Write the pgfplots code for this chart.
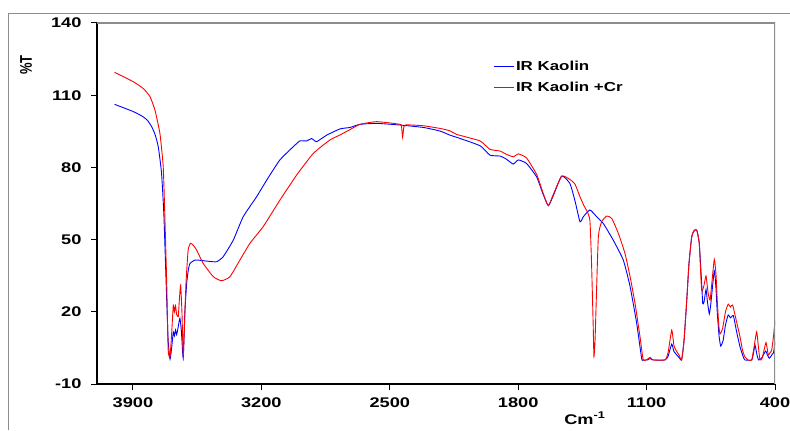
\documentclass[border=0pt]{standalone}
\usepackage{graphicx}
\usepackage{pgfplots}
\pgfplotsset{compat=1.18}
\usepackage{fontspec}
\setmainfont{Liberation Sans}
\newcommand{\wide}[1]{\scalebox{1.3}[1]{#1}}
\definecolor{frame}{RGB}{140,140,140}
\begin{document}
\begin{tikzpicture}[x=1bp,y=1bp]
\path[use as bounding box] (0,0) rectangle (790,430);
\draw[frame, line width=1bp] (8,0) -- (8,416) -- (790,416);
\begin{axis}[at={(97bp,46bp)}, anchor=south west,
  width=678bp, height=361bp, scale only axis,
  x dir=reverse, xmin=400, xmax=4096, ymin=-10, ymax=140,
  axis x line*=bottom, axis y line*=left,
  axis line style={line width=1.5bp, black, -},
  xtick={400,1100,1800,2500,3200,3900},
  xticklabels={\wide{400},\wide{1100},\wide{1800},\wide{2500},\wide{3200},\wide{3900}},
  ytick={-10,20,50,80,110,140},
  yticklabels={\wide{-10},\wide{20},\wide{50},\wide{80},\wide{110},\wide{140}},
  tick align=outside, major tick length=6bp,
  tick style={line width=1bp, black},
  tick label style={font=\fontsize{14bp}{16bp}\selectfont\bfseries},
  yticklabel style={xshift=-6bp},
  xticklabel style={yshift=-4bp},
  legend style={at={(rel axis cs:0.584,0.9)}, anchor=north west, draw=none, fill=none,
    font=\fontsize{13bp}{15bp}\selectfont\bfseries, inner sep=0pt, row sep=6bp,
    cells={anchor=west}},
  legend image code/.code={\draw[#1] (0bp,0bp) -- (20bp,0bp);},
  clip=true,
]
\addplot[blue, line width=0.9bp, smooth, tension=0.3] coordinates {
(4000,106.2) (3898,103.2) (3862,101.8) (3844,101) (3820,99.5) (3798,96.9) (3780,93.8) (3762,88.6) (3744,77.5) (3731,59.5) (3716,24.9) (3708,8) (3698,0.3) (3689,5) (3680,11.7) (3674,10) (3668,12.5) (3662,10.5) (3655,13) (3644,17.3) (3636,12) (3626,0.7) (3617,20) (3607,31.8) (3598,37.5) (3589,40.1) (3562,41.5) (3535,41.4) (3490,41) (3444,40.8) (3408,42.9) (3353,49.8) (3299,59.5) (3226,67.8) (3171,74.7) (3099,83.1) (3026,88.6) (2990,91) (2953,91) (2926,92) (2899,90.7) (2844,93.4) (2771,96) (2717,96.6) (2662,97.9) (2571,98.3) (2444,97.6) (2317,96.6) (2226,95.1) (2172,93.4) (2135,92.5) (2008,89) (1954,85.1) (1899,84.7) (1866,83.5) (1827,81.4) (1799,83.1) (1754,81.6) (1699,76) (1665,69) (1636,64.1) (1610,68) (1563,76.4) (1518,73.3) (1490,66) (1463,57.4) (1445,59.5) (1409,62.3) (1372,59.5) (1336,56.7) (1282,49.8) (1227,41.5) (1190,30.5) (1154,15.2) (1127,0.6) (1120,0) (1095,0) (1081,0.6) (1065,0) (1000,0) (983,1.5) (963,6.6) (951,3.5) (940,2.5) (923,1) (909,0) (896,8) (881,24.9) (869,40) (854,51.2) (842,53.5) (827,54) (813,48.5) (800,32) (794,23.5) (787,24) (776,29.3) (768,24) (758,19.1) (749,24) (731,37.1) (722,30) (715,20) (705,10) (696,5.8) (683,8) (670,14.5) (655,18.7) (643,17.5) (627,18.4) (610,12) (591,5.5) (574,1.5) (564,0) (527,0) (517,3) (509,6.2) (498,2) (490,0) (482,0.2) (471,1) (451,3.7) (441,2) (431,0.7) (418,2) (408,3) (400,7.6)
};
\addlegendentry{\wide{IR Kaolin}}
\addplot[red, line width=0.9bp, smooth, tension=0.3] coordinates {
(4000,119.5) (3898,115.6) (3844,112.8) (3807,109.4) (3780,103.8) (3753,94.1) (3735,80.3) (3726,59.5) (3716,32) (3708,4.1) (3698,1.3) (3689,11) (3680,22.8) (3674,20) (3668,22.5) (3662,19) (3653,18) (3647,25) (3640,31.1) (3633,20) (3626,2) (3620,12) (3611,31.8) (3599,45.7) (3586,48.5) (3570,47.5) (3553,45.7) (3517,40.1) (3462,34.6) (3417,32.9) (3371,34.6) (3317,41.5) (3262,48.5) (3190,55.4) (3099,66.4) (3008,76.8) (2917,85.8) (2826,91.4) (2771,93.5) (2717,95.7) (2662,97.9) (2571,99) (2444,97.9) (2436,97) (2430,92.5) (2423,97) (2412,97.7) (2317,97.3) (2226,96.2) (2172,95.2) (2135,93.7) (2008,91) (1954,87.5) (1899,86.8) (1866,85.5) (1827,84.4) (1799,85.6) (1754,83.9) (1699,77) (1665,69.5) (1636,64.1) (1610,68.5) (1563,76.4) (1518,75) (1490,73) (1463,67.8) (1441,64) (1426,62) (1409,58) (1400,40) (1391,14) (1387,1.3) (1381,8) (1376,20.7) (1363,51.2) (1345,57.4) (1318,59.8) (1290,58.8) (1254,52.6) (1218,44.3) (1190,34.6) (1163,23.5) (1136,9.7) (1118,0) (1092,0.5) (1081,1.1) (1065,0) (1000,0) (983,3) (963,12.4) (951,6) (940,4) (923,2) (909,0) (896,8) (881,25) (869,40) (854,51.2) (842,53.8) (827,54) (813,48.5) (800,29) (787,31) (776,34.9) (765,28) (754,24.9) (743,33) (731,41.8) (722,36) (715,25) (707,15) (700,10.8) (686,13) (670,20) (655,23.2) (643,22) (631,22.8) (610,16) (591,9.7) (577,4) (564,1.3) (547,0) (527,0) (515,5) (500,11.7) (490,5) (482,0) (471,0.5) (460,4) (449,7.2) (441,4) (437,2) (427,3) (418,4.1) (408,10) (400,16.3)
};
\addlegendentry{\wide{IR Kaolin +Cr}}
\draw[frame, line width=1.2bp] (rel axis cs:0,1) -- (rel axis cs:1,1) -- (rel axis cs:1,0);
\end{axis}
\node[rotate=90, font=\fontsize{13bp}{15bp}\selectfont\bfseries] at (26,365) {\scalebox{1}[1.3]{\%T}};
\node[anchor=base, font=\fontsize{14bp}{16bp}\selectfont\bfseries] at (585,6) {\wide{Cm\textsuperscript{-1}}};
\end{tikzpicture}
\end{document}
